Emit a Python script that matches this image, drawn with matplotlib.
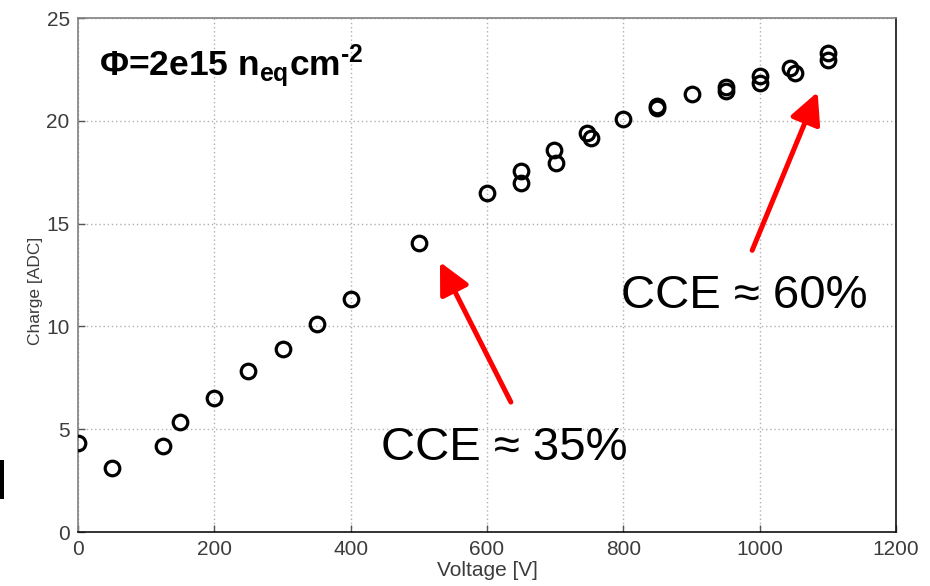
import matplotlib
matplotlib.use("Agg")
import matplotlib.pyplot as plt
from matplotlib.patches import Rectangle

plt.rcParams['font.family'] = ['Liberation Sans', 'DejaVu Sans']
plt.rcParams['mathtext.fontset'] = 'custom'
plt.rcParams['mathtext.rm'] = 'Liberation Sans'
plt.rcParams['mathtext.bf'] = 'Liberation Sans:bold'
plt.rcParams['mathtext.it'] = 'Liberation Sans:italic'

# Measured collected charge versus bias voltage
voltage = [0, 50, 125, 150, 200, 250, 300, 350, 400, 500, 600,
           650, 650, 698, 701, 747, 752, 800, 850, 850, 900,
           950, 950, 1000, 1000, 1044, 1052, 1100, 1100]
charge = [4.31, 3.13, 4.17, 5.33, 6.5, 7.83, 8.9, 10.1, 11.35, 14.07, 16.5,
          17.56, 16.97, 18.58, 17.97, 19.42, 19.18, 20.07, 20.72, 20.62, 21.3,
          21.62, 21.45, 22.2, 21.85, 22.55, 22.34, 23.3, 22.96]

x_ticks = [0, 200, 400, 600, 800, 1000, 1200]
y_ticks = [0, 5, 10, 15, 20, 25]

fig = plt.figure(figsize=(9.3, 5.86), dpi=100)
ax = fig.add_axes([78 / 930, 1 - 532 / 586, 818 / 930, 514 / 586])

ax.plot(voltage, charge, linestyle='none', marker='o', markersize=10.5,
        markerfacecolor='none', markeredgecolor='black', markeredgewidth=2.3,
        zorder=3)

ax.set_xlim(0, 1200)
ax.set_ylim(0, 25)
ax.set_xticks(x_ticks)
ax.set_yticks(y_ticks)
ax.grid(True, linestyle=(0, (1, 2)), color='#b0b0b0', linewidth=1.0)
ax.set_axisbelow(True)

tick_col = '#3c3c3c'
ax.tick_params(axis='both', direction='in', length=5, width=1,
               labelsize=15, labelcolor=tick_col, color='#555555')
ax.tick_params(axis='x', pad=6)
ax.tick_params(axis='y', pad=6)
for side, col in [('left', '#808080'), ('top', '#808080'),
                  ('bottom', '#111111'), ('right', '#111111')]:
    ax.spines[side].set_color(col)
    ax.spines[side].set_linewidth(1.2)

ax.set_xlabel('Voltage [V]', fontsize=15, color=tick_col)
ax.xaxis.set_label_coords(0.5, -0.057)
ax.set_ylabel('Charge [ADC]', fontsize=12.5, color=tick_col)
ax.yaxis.set_label_coords(-0.043, 0.47)

# Fluence label
ax.text(0.026, 0.886, 'Φ=2e15 n$_{\\mathbf{eq}}$cm$^{\\mathbf{\u20102}}$',
        transform=ax.transAxes, fontsize=25.5, fontweight='bold',
        ha='left', va='baseline', color='black')

# Charge collection efficiency callouts
arrow_kw = dict(arrowstyle='-|>,head_length=1.9,head_width=0.95',
                color='#ff0000', lw=3.6, mutation_scale=10,
                shrinkA=0, shrinkB=0)
ax.annotate('', xy=(531, 13.13), xytext=(635, 6.32), arrowprops=arrow_kw)
ax.annotate('', xy=(1085, 21.4), xytext=(989, 13.7), arrowprops=arrow_kw)

ax.text(626, 3.5, 'CCE ≈ 35%', fontsize=34, ha='center', va='baseline', color='black')
ax.text(978, 10.9, 'CCE ≈ 60%', fontsize=34, ha='center', va='baseline', color='black')

# Slide edge mark at the lower left
fig.patches.append(Rectangle((0, 1 - 499 / 586), 4 / 930, 39 / 586,
                             transform=fig.transFigure, facecolor='black',
                             edgecolor='none'))

fig.savefig('out.png', dpi=100)
